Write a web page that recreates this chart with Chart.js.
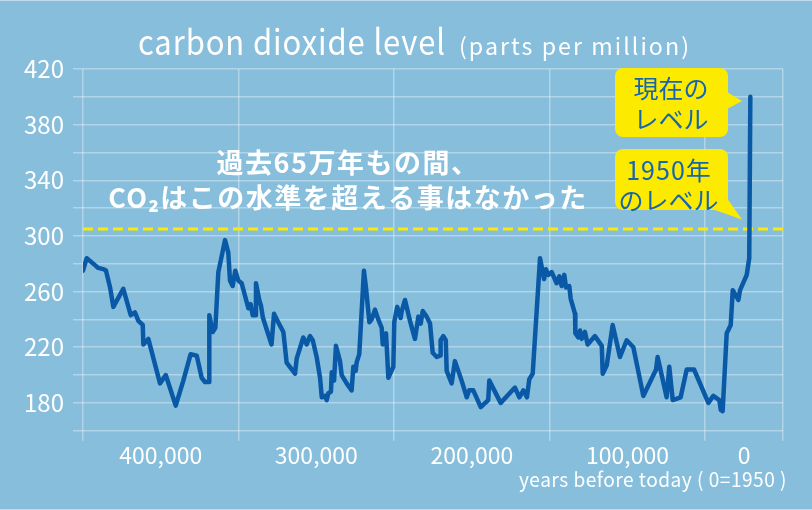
<!DOCTYPE html>
<html lang="ja">
<head>
<meta charset="UTF-8">
<title>carbon dioxide level</title>
<script src="https://cdn.jsdelivr.net/npm/chart.js@4.4.1/dist/chart.umd.min.js"></script>
<style>
  html, body { margin: 0; padding: 0; background: #86bedc; }
  canvas { display: block; }
</style>
</head>
<body>
<canvas id="co2chart" width="812" height="510"></canvas>
<script>
// years before today (axis units) and CO2 ppm
const years = [
  450000, 447600, 442300, 440200, 436500, 435200, 432600, 430500, 424100, 419300,
  416600, 414400, 411600, 411200, 408000, 400500, 396800, 390400, 385500, 380800,
  376900, 373700, 371600, 369000, 368800, 366600, 364900, 363000, 358700, 356600,
  355500, 353800, 352100, 350200, 348000, 343700, 342200, 340900, 339400, 338800,
  336500, 335600, 334300, 328800, 327200, 324500, 321200, 319100, 313700, 312600,
  308400, 306200, 304100, 302300, 299800, 297600, 296500, 294400, 293300, 292300,
  290600, 290100, 288600, 287400, 284800, 283700, 280500, 277300, 276200, 274700,
  274100, 272400, 269400, 268100, 265900, 264400, 262300, 260200, 258000, 257300,
  255200, 253700, 250500, 249900, 248000, 245800, 245100, 243000, 239800, 236600,
  234400, 232900, 231600, 229100, 226900, 225200, 222600, 220500, 220100, 218400,
  216800, 216200, 213000, 210900, 206600, 203300, 201700, 199100, 194300, 189500,
  188800, 181500, 172300, 169500, 166900, 164600, 163100, 160900, 156200, 153600,
  152400, 150900, 148700, 145500, 143800, 142300, 140600, 139500, 137400, 136500,
  133700, 133500, 131600, 130500, 129400, 127300, 125600, 120900, 116500, 115900,
  113300, 109500, 104800, 100500, 96200, 89800, 81600, 80600, 74800, 73100,
  70900, 65800, 61900, 57200, 48000, 44800, 40900, 40000, 38800, 36200,
  33600, 32300, 28700, 27600, 23300, 21700, 21000
];
const co2 = [
  275, 284, 279, 277, 276, 275, 263, 249, 262, 243,
  245, 239, 236, 222, 226, 194, 200, 178, 196, 215,
  214, 198, 195, 195, 243, 231, 234, 274, 297, 288,
  268, 264, 275, 268, 266, 248, 251, 243, 243, 266,
  253, 250, 241, 222, 244, 238, 231, 209, 201, 212,
  227, 222, 228, 225, 213, 198, 184, 185, 182, 187,
  188, 202, 196, 221, 210, 200, 194, 189, 206, 203,
  209, 215, 275, 263, 238, 240, 247, 240, 234, 222,
  230, 198, 206, 238, 249, 241, 246, 254, 239, 226,
  242, 237, 246, 242, 237, 216, 213, 214, 225, 228,
  225, 203, 194, 210, 196, 184, 189, 189, 177, 182,
  196, 180, 191, 184, 189, 184, 197, 201, 284, 269,
  276, 272, 274, 266, 271, 264, 272, 263, 264, 255,
  244, 230, 227, 232, 226, 231, 222, 228, 221, 201,
  207, 236, 213, 225, 220, 185, 204, 213, 184, 206,
  182, 184, 204, 204, 180, 185, 182, 175, 174, 230,
  236, 261, 254, 261, 272, 284, 400
];
const level1950 = 305;

const xLabelValues = [400000, 300000, 200000, 100000, 25000];
const xLabels = ['400,000', '300,000', '200,000', '100,000', '0'];
const xGridValues = [450000, 350000, 250000, 150000, 50000, 0];
const yLabelValues = [180, 220, 260, 300, 340, 380, 420];

const BG = '#86bedc';
const GRID = 'rgba(255,255,255,0.35)';
const LINE = '#0a59a6';
const YELLOW = '#fcea00';
const NOTE_BLUE = '#1565b0';
const FONT = "'Noto Sans CJK JP', 'Noto Sans', sans-serif";

// draw text squeezed/stretched horizontally to a given width
function fitText(c, text, x, y, w, align) {
  const m = c.measureText(text).width;
  c.save();
  c.translate(x, y);
  c.scale(w / m, 1);
  c.textAlign = 'left';
  const ox = align === 'right' ? -m : align === 'center' ? -m / 2 : 0;
  c.fillText(text, ox, 0);
  c.restore();
}

function callout(c, x, y, w, h, tail) {
  c.beginPath();
  c.roundRect(x, y, w, h, 8);
  c.fill();
  c.beginPath();
  c.moveTo(tail[0][0], tail[0][1]);
  c.lineTo(tail[1][0], tail[1][1]);
  c.lineTo(tail[2][0], tail[2][1]);
  c.closePath();
  c.fill();
}

const decor = {
  id: 'decor',
  beforeDraw(chart) {
    const c = chart.ctx;
    c.save();
    c.fillStyle = BG;
    c.fillRect(0, 0, chart.width, chart.height);
    // thin light edge top and bottom
    c.fillStyle = 'rgba(255,255,255,0.45)';
    c.fillRect(0, 0, chart.width, 1);
    c.fillRect(0, chart.height - 1, chart.width, 1);
    c.restore();
  },
  afterDraw(chart) {
    const c = chart.ctx;
    c.save();
    c.fillStyle = '#fff';
    c.textBaseline = 'alphabetic';
    c.font = '35px ' + FONT;
    c.letterSpacing = '1px';
    fitText(c, 'carbon dioxide level', 138, 55, 308, 'left');
    c.font = '23px ' + FONT;
    c.letterSpacing = '2px';
    fitText(c, '(parts per million)', 459, 55, 232, 'left');

    c.font = '20px ' + FONT;
    c.letterSpacing = '0.5px';
    fitText(c, 'years before today ( 0=1950 )', 787, 487, 268, 'right');

    c.font = 'bold 27px ' + FONT;
    c.letterSpacing = '1.5px';
    c.textAlign = 'center';
    c.textBaseline = 'middle';
    c.fillText('過去65万年もの間、', 348, 162.5);
    c.fillText('CO₂はこの水準を超える事はなかった', 348, 197.5);

    // yellow callouts
    c.fillStyle = YELLOW;
    callout(c, 615, 68, 113, 69, [[727, 92], [742, 101], [727, 109]]);
    callout(c, 615, 149, 113, 61, [[712, 209], [742, 219.5], [727.5, 199]]);

    c.fillStyle = NOTE_BLUE;
    c.font = '25px ' + FONT;
    c.letterSpacing = '0px';
    c.fillText('現在の', 671, 88.5);
    c.fillText('レベル', 671, 119.7);
    c.letterSpacing = '1px';
    c.fillText('1950年', 669, 170.7);
    c.letterSpacing = '0px';
    c.fillText('のレベル', 668.5, 200.7);
    c.restore();
  }
};

new Chart(document.getElementById('co2chart'), {
  type: 'line',
  data: {
    datasets: [
      {
        label: 'CO2',
        data: years.map((x, i) => ({ x: x, y: co2[i] })),
        borderColor: LINE,
        borderWidth: 4.5,
        pointRadius: 0,
        tension: 0,
        borderJoinStyle: 'round',
        borderCapStyle: 'round',
        order: 0
      },
      {
        label: '1950',
        data: [{ x: 450000, y: level1950 }, { x: 0, y: level1950 }],
        borderColor: YELLOW,
        borderWidth: 3,
        borderDash: [10, 5],
        pointRadius: 0,
        order: 1
      }
    ]
  },
  options: {
    responsive: false,
    animation: false,
    layout: { padding: { top: 69, right: 29, bottom: 0, left: 0 } },
    plugins: {
      legend: { display: false },
      tooltip: { enabled: false }
    },
    scales: {
      x: {
        type: 'linear',
        reverse: true,
        min: 0,
        max: 450000,
        afterBuildTicks: s => {
          const vals = [...new Set([...xGridValues, ...xLabelValues])].sort((a, b) => b - a);
          s.ticks = vals.map(v => ({ value: v }));
        },
        afterFit: s => { s.height = 79.3; },
        grid: {
          color: ctx => xGridValues.includes(ctx.tick.value) ? GRID : 'rgba(0,0,0,0)',
          lineWidth: 1.5,
          tickLength: 10
        },
        border: { display: false },
        ticks: {
          autoSkip: false,
          maxRotation: 0,
          padding: 1,
          color: '#fff',
          font: { family: FONT, size: 23 },
          callback: v => {
            const i = xLabelValues.indexOf(v);
            return i < 0 ? '' : xLabels[i];
          }
        }
      },
      y: {
        min: 160,
        max: 420,
        afterFit: s => { s.width = 83; },
        grid: { color: GRID, lineWidth: 1.5, tickLength: 10 },
        border: { display: false },
        ticks: {
          autoSkip: false,
          stepSize: 20,
          padding: 9,
          color: '#fff',
          font: { family: FONT, size: 24 },
          callback: v => yLabelValues.includes(v) ? String(v) : ''
        }
      }
    }
  },
  plugins: [decor]
});
</script>
</body>
</html>
